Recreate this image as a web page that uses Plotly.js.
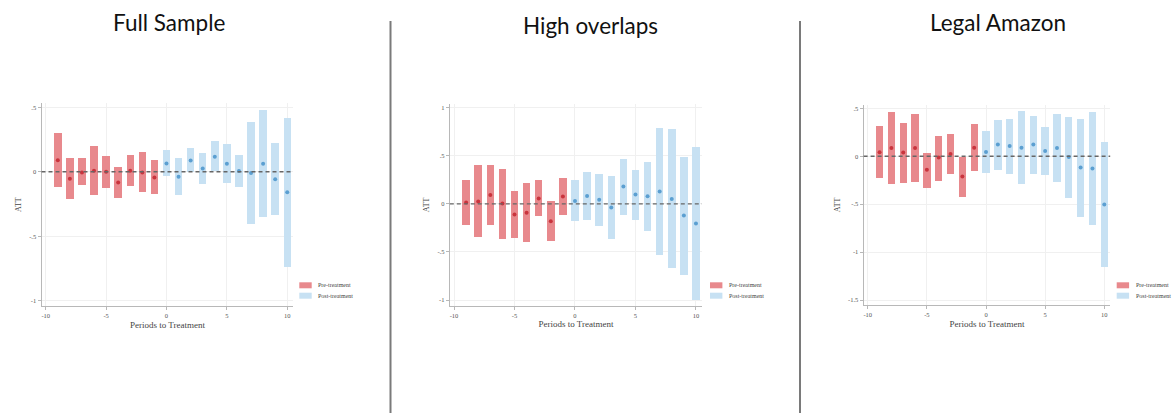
<!DOCTYPE html>
<html><head><meta charset="utf-8">
<script src="https://cdn.plot.ly/plotly-3.0.1.min.js"></script>
<style>html,body{margin:0;padding:0;background:#fff}#chart{width:1173px;height:413px}</style>
</head><body><div id="chart"></div>
<script>
// ---------------- data ----------------
const panelTitles = ['Full Sample', 'High overlaps', 'Legal Amazon'];
const prePeriods  = [-9, -8, -7, -6, -5, -4, -3, -2, -1];
const postPeriods = [0, 1, 2, 3, 4, 5, 6, 7, 8, 9, 10];
const xTickVals = [-10, -5, 0, 5, 10];
const xTickText = ['-10', '-5', '0', '5', '10'];

// Full Sample
const fullPreEst  = [0.090, -0.054, -0.005, 0.008, 0.000, -0.083, 0.008, -0.005, -0.044];
const fullPreHi   = [0.297, 0.109, 0.103, 0.200, 0.124, 0.039, 0.129, 0.150, 0.088];
const fullPreLo   = [-0.116, -0.214, -0.103, -0.183, -0.127, -0.204, -0.111, -0.160, -0.176];
const fullPostEst = [0.065, -0.039, 0.088, 0.026, 0.116, 0.062, 0.005, -0.010, 0.062, -0.059, -0.158];
const fullPostHi  = [0.165, 0.106, 0.186, 0.142, 0.238, 0.212, 0.132, 0.385, 0.480, 0.220, 0.419];
const fullPostLo  = [-0.034, -0.183, -0.005, -0.096, 0.005, -0.088, -0.116, -0.406, -0.349, -0.339, -0.736];
const fullYTickVals = [-1, -0.5, 0, 0.5];
const fullYTickText = ['-1', '-.5', '0', '.5'];

// High overlaps
const highPreEst  = [0.014, 0.024, 0.093, 0.003, -0.111, -0.093, 0.055, -0.180, 0.076];
const highPreHi   = [0.246, 0.401, 0.401, 0.367, 0.135, 0.215, 0.246, 0.028, 0.270];
const highPreLo   = [-0.215, -0.346, -0.218, -0.363, -0.356, -0.401, -0.131, -0.391, -0.118];
const highPostEst = [0.031, 0.083, 0.042, -0.038, 0.180, 0.097, 0.080, 0.128, 0.052, -0.121, -0.204];
const highPostHi  = [0.246, 0.329, 0.315, 0.287, 0.471, 0.353, 0.439, 0.785, 0.775, 0.491, 0.592];
const highPostLo  = [-0.183, -0.166, -0.232, -0.360, -0.118, -0.166, -0.287, -0.529, -0.664, -0.737, -0.997];
const highYTickVals = [-1, -0.5, 0, 0.5, 1];
const highYTickText = ['-1', '-.5', '0', '.5', '1'];

// Legal Amazon
const amzPreEst  = [0.042, 0.087, 0.038, 0.087, -0.142, -0.014, 0.024, -0.212, 0.090];
const amzPreHi   = [0.316, 0.458, 0.351, 0.441, 0.038, 0.215, 0.236, -0.010, 0.333];
const amzPreLo   = [-0.226, -0.288, -0.278, -0.271, -0.330, -0.253, -0.184, -0.420, -0.149];
const amzPostEst = [0.045, 0.122, 0.108, 0.090, 0.122, 0.056, 0.087, -0.007, -0.118, -0.128, -0.503];
const amzPostHi  = [0.260, 0.382, 0.392, 0.469, 0.420, 0.302, 0.438, 0.410, 0.392, 0.458, 0.149];
const amzPostLo  = [-0.170, -0.142, -0.181, -0.288, -0.181, -0.191, -0.264, -0.431, -0.635, -0.719, -1.156];
const amzYTickVals = [-1.5, -1, -0.5, 0, 0.5];
const amzYTickText = ['-1.5', '-1', '-.5', '0', '.5'];

const legendLabels = ['Pre-treatment', 'Post-treatment'];
const xTitle = 'Periods to Treatment';
const yTitle = 'ATT';

// ---------------- styling / layout ----------------
const W = 1173, H = 413;
const px = v => v / W;
const py = v => 1 - v / H;

const RED_BAR = '#e8898d', RED_PT = '#c9343d';
const BLUE_BAR = '#c7e1f3', BLUE_PT = '#5b9fd1';
const SERIF = 'Liberation Serif, Times New Roman, serif';

const panels = [
  {pre: [fullPreEst, fullPreLo, fullPreHi], post: [fullPostEst, fullPostLo, fullPostHi],
   yv: fullYTickVals, yt: fullYTickText, xr: [-10.35, 10.5], yr: [-1.04, 0.53],
   xd: [41.5, 293.3], yd: [305.9, 103.4], title: [168.5, 22], leg: 299.3},
  {pre: [highPreEst, highPreLo, highPreHi], post: [highPostEst, highPostLo, highPostHi],
   yv: highYTickVals, yt: highYTickText, xr: [-10.35, 10.5], yr: [-1.06, 1.04],
   xd: [449.8, 702], yd: [305.8, 103.9], title: [590, 25.5], leg: 710},
  {pre: [amzPreEst, amzPreLo, amzPreHi], post: [amzPostEst, amzPostLo, amzPostHi],
   yv: amzYTickVals, yt: amzYTickText, xr: [-10.35, 10.5], yr: [-1.555, 0.54],
   xd: [863.6, 1110.2], yd: [305.3, 104.5], title: [997.5, 22], leg: 1116.7}
];

const traces = [];
const layout = {
  width: W, height: H, margin: {l: 0, r: 0, t: 0, b: 0},
  paper_bgcolor: '#ffffff', plot_bgcolor: '#ffffff',
  showlegend: false, bargap: 0, barmode: 'overlay',
  shapes: [], annotations: []
};

panels.forEach((p, i) => {
  const n = i === 0 ? '' : String(i + 1);
  const xa = 'x' + n, ya = 'y' + n;
  const groups = [[prePeriods, p.pre, RED_BAR, RED_PT], [postPeriods, p.post, BLUE_BAR, BLUE_PT]];
  groups.forEach(([xs, [est, lo, hi], barC, ptC]) => {
    traces.push({
      type: 'bar', x: xs, base: lo, y: hi.map((h, k) => h - lo[k]),
      width: 0.62, marker: {color: barC, line: {width: 0}},
      xaxis: xa, yaxis: ya, hoverinfo: 'skip'
    });
  });
  groups.forEach(([xs, [est], barC, ptC]) => {
    traces.push({
      type: 'scatter', mode: 'markers', x: xs, y: est,
      marker: {color: ptC, size: 4, symbol: 'circle'},
      xaxis: xa, yaxis: ya, hoverinfo: 'skip', cliponaxis: false
    });
  });
  const axBase = {
    showline: true, linecolor: '#b8b8b8', linewidth: 1,
    ticks: 'outside', ticklen: 3, tickcolor: '#b8b8b8', tickwidth: 1,
    showgrid: true, gridcolor: '#f0f0f0', gridwidth: 1, zeroline: false,
    tickfont: {family: SERIF, size: 6.5, color: '#555'}, fixedrange: true
  };
  layout['xaxis' + n] = Object.assign({}, axBase, {
    domain: [px(p.xd[0]), px(p.xd[1])], range: p.xr, anchor: ya,
    tickmode: 'array', tickvals: xTickVals, ticktext: xTickText,
    title: {text: xTitle, font: {family: SERIF, size: 9, color: '#444'}, standoff: 3}
  });
  layout['yaxis' + n] = Object.assign({}, axBase, {
    domain: [py(p.yd[0]), py(p.yd[1])], range: p.yr, anchor: xa,
    tickmode: 'array', tickvals: p.yv, ticktext: p.yt, tickangle: 0,
    title: {text: yTitle, font: {family: SERIF, size: 8, color: '#444'}, standoff: 6}
  });
  // zero reference line
  layout.shapes.push({
    type: 'line', xref: xa + ' domain', x0: 0, x1: 1, yref: ya, y0: 0, y1: 0,
    line: {color: '#666', width: 1.4, dash: '4px,3px'}, layer: 'above'
  });
  // panel title
  layout.annotations.push({
    text: panelTitles[i], xref: 'paper', yref: 'paper', x: px(p.title[0]), y: py(p.title[1]),
    xanchor: 'center', yanchor: 'middle', showarrow: false,
    font: {family: 'Lato, Open Sans, sans-serif', size: 22.5, color: '#111'}
  });
  // legend (manual)
  [[RED_BAR, 282.3], [BLUE_BAR, 292.7]].forEach(([c, top], k) => {
    layout.shapes.push({
      type: 'rect', xref: 'paper', yref: 'paper',
      x0: px(p.leg), x1: px(p.leg + 12.4), y0: py(top + 6), y1: py(top),
      fillcolor: c, line: {width: 0}
    });
    layout.annotations.push({
      text: legendLabels[k], xref: 'paper', yref: 'paper',
      x: px(p.leg + 17), y: py(top + 3), xanchor: 'left', yanchor: 'middle',
      showarrow: false, font: {family: SERIF, size: 6, color: '#444'}
    });
  });
});

// panel separators
[390.5, 800].forEach(xv => {
  layout.shapes.push({
    type: 'line', xref: 'paper', yref: 'paper', x0: px(xv), x1: px(xv), y0: py(21), y1: 0,
    line: {color: '#7a7a7a', width: 2}
  });
});

Plotly.newPlot('chart', traces, layout, {displayModeBar: false, staticPlot: true});
</script>
</body></html>
